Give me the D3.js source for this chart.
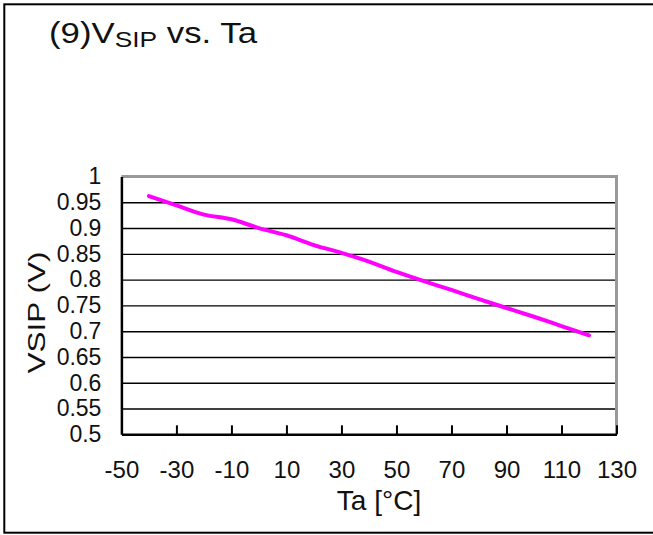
<!DOCTYPE html>
<html lang="en">
<head>
  <meta charset="UTF-8">
  <script src="https://cdnjs.cloudflare.com/ajax/libs/d3/7.8.5/d3.min.js"></script>
  <style>
    body { margin: 0; background: #fff; font-family: 'Liberation Sans', Arial, sans-serif; }
    svg text { font-family: 'Liberation Sans', Arial, sans-serif; fill: #111; }
  </style>
  <title>VSIP vs. Ta</title>
</head>
<body>
  <div id="chart"></div>
<script>
  // temperature (degC) and VSIP (V)
  const temps = [-40, -30, -20, -10, 0, 10, 20, 30, 40, 50, 60, 70, 80, 90, 100, 110, 120];
  const vsip = [0.962, 0.944, 0.926, 0.917, 0.900, 0.886, 0.867, 0.852, 0.835, 0.815, 0.797, 0.780, 0.762, 0.745, 0.728, 0.710, 0.692];
  const xTicks = [-50, -30, -10, 10, 30, 50, 70, 90, 110, 130];
  const yTicks = [0.5, 0.55, 0.6, 0.65, 0.7, 0.75, 0.8, 0.85, 0.9, 0.95, 1];

  const W = 653, H = 535;
  const pl = 121.4, pr = 616.5, pt = 176.5, pb = 434.3;

  const svg = d3.select("#chart").append("svg")
    .attr("width", W).attr("height", H);

  // outer frame
  svg.append("rect")
    .attr("x", 4.3).attr("y", 4.3)
    .attr("width", 680).attr("height", 528.4)
    .attr("fill", "none").attr("stroke", "#000").attr("stroke-width", 2);

  // title
  const title = svg.append("text")
    .attr("x", 49).attr("y", 43)
    .attr("font-size", 29)
    .attr("textLength", 208).attr("lengthAdjust", "spacingAndGlyphs");
  title.append("tspan").text("(9)V");
  title.append("tspan").attr("font-size", 22).attr("dy", 4).text("SIP");
  title.append("tspan").attr("dy", -4).text(" vs. Ta");

  const x = d3.scaleLinear().domain([-50, 130]).range([pl, pr]);
  const y = d3.scaleLinear().domain([0.5, 1]).range([pb, pt]);

  // gridlines
  const grid = svg.append("g")
    .attr("transform", "translate(" + pl + ",0)")
    .call(d3.axisLeft(y).tickValues(yTicks.slice(1, -1)).tickSize(-(pr - pl)).tickFormat(""));
  grid.select(".domain").remove();
  grid.selectAll(".tick line").attr("stroke", "#000").attr("stroke-width", 1.4);

  // gray top / right frame
  svg.append("path")
    .attr("d", "M" + pl + "," + pt + "H" + pr + "V" + pb)
    .attr("fill", "none").attr("stroke", "#999").attr("stroke-width", 3);

  // x axis
  const gx = svg.append("g")
    .attr("transform", "translate(0," + pb + ")")
    .call(d3.axisBottom(x).tickValues(xTicks).tickSizeInner(-9).tickSizeOuter(0).tickPadding(27)
      .tickFormat(d => String(d)));
  gx.select(".domain").attr("stroke", "#000").attr("stroke-width", 2.5);
  gx.selectAll(".tick line").attr("stroke", "#000").attr("stroke-width", 2);
  gx.selectAll(".tick").filter(d => d === -50).select("line").remove();
  gx.selectAll(".tick text").attr("font-size", 24).attr("fill", "#111")
    .attr("font-family", "'Liberation Sans', Arial, sans-serif");

  // y axis
  const gy = svg.append("g")
    .attr("transform", "translate(" + pl + ",0)")
    .call(d3.axisLeft(y).tickValues(yTicks).tickSize(0).tickPadding(20).tickFormat(d => String(d)));
  gy.select(".domain").attr("stroke", "#000").attr("stroke-width", 2.5);
  gy.selectAll(".tick text").attr("font-size", 23).attr("fill", "#111")
    .attr("font-family", "'Liberation Sans', Arial, sans-serif");

  // axis titles
  svg.append("text")
    .attr("x", 379).attr("y", 510)
    .attr("text-anchor", "middle")
    .attr("font-size", 28)
    .text("Ta [°C]");

  svg.append("text")
    .attr("transform", "translate(45,312.5) rotate(-90)")
    .attr("text-anchor", "middle")
    .attr("font-size", 24)
    .attr("textLength", 122).attr("lengthAdjust", "spacingAndGlyphs")
    .text("VSIP  (V)");

  // the curve
  const pts = temps.map((t, i) => [t, vsip[i]]);
  svg.append("path")
    .datum(pts)
    .attr("fill", "none")
    .attr("stroke", "#ff00ff")
    .attr("stroke-width", 4)
    .attr("stroke-linecap", "round")
    .attr("stroke-linejoin", "round")
    .attr("d", d3.line()
      .x(d => x(d[0]))
      .y(d => y(d[1]))
      .curve(d3.curveMonotoneX));
</script>
</body>
</html>
